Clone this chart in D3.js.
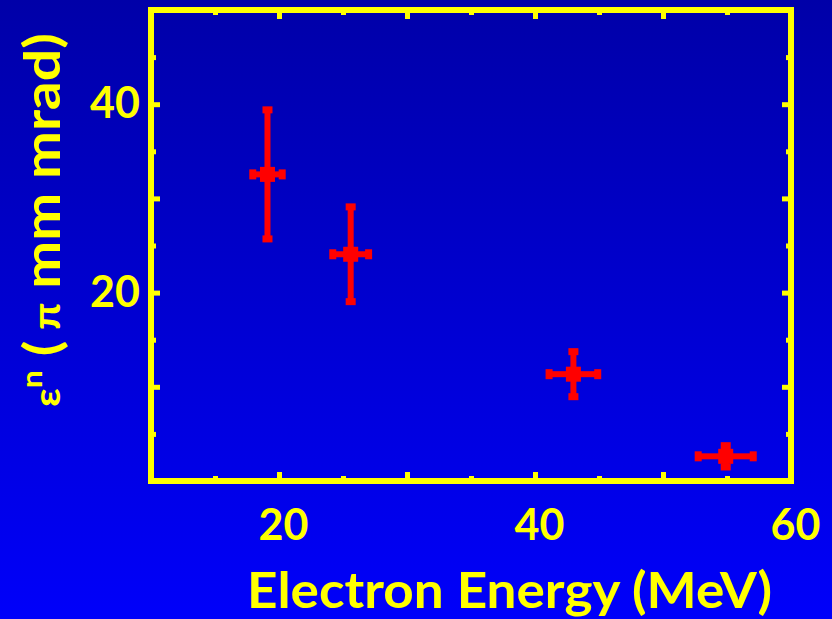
<!DOCTYPE html>
<html>
<head>
<meta charset="utf-8">
<script src="https://cdn.jsdelivr.net/npm/d3@7"></script>
<style>
  html, body { margin: 0; padding: 0; overflow: hidden; background: #0000d0; }
  svg { display: block; }
</style>
</head>
<body>
<svg id="chart" width="832" height="619"></svg>
<script>
// Normalised emittance versus electron energy
const energy       = [19.1, 25.6, 43.0, 54.9];     // MeV
const energyErr    = [1.15, 1.4, 1.9, 2.15];
const emittance    = [32.55, 24.07, 11.34, 2.62];  // pi mm mrad
const emittanceErr = [6.85, 5.03, 2.39, 1.13];

const xDomain      = [10, 60];
const yDomain      = [0, 50];
const xMajorTicks  = [20, 30, 40, 50];
const xMinorTicks  = [15, 25, 35, 45, 55];
const xTickLabels  = [20, 40, 60];
const yMajorTicks  = [10, 20, 30, 40];
const yMinorTicks  = [5, 15, 25, 35, 45];
const yTickLabels  = [20, 40];
const xTitle       = "Electron Energy (MeV)";

const W = 832, H = 619;
const plot = { left: 151, right: 791, top: 10, bottom: 481 };
const YELLOW = "#ffff00", RED = "#ff0000";
const FONT = "'Comic Sans MS', Lato, 'DejaVu Sans', sans-serif";

const svg = d3.select("#chart");

// Blue backdrop, darker at the top
const defs = svg.append("defs");
const grad = defs.append("linearGradient")
  .attr("id", "bg").attr("x1", 0).attr("y1", 0).attr("x2", 0).attr("y2", 1);
grad.append("stop").attr("offset", "0%").attr("stop-color", "#0000a8");
grad.append("stop").attr("offset", "100%").attr("stop-color", "#0000fa");
svg.append("rect").attr("width", W).attr("height", H).attr("fill", "url(#bg)");

const x = d3.scaleLinear().domain(xDomain).range([plot.left, plot.right]);
const y = d3.scaleLinear().domain(yDomain).range([plot.bottom, plot.top]);

// Inward ticks on all four sides
function styleTicks(g) {
  g.select(".domain").remove();
  g.selectAll(".tick line").attr("stroke", YELLOW).attr("stroke-width", 5);
  g.selectAll(".tick text").remove();
}
const sides = [
  { axis: d3.axisBottom(x), t: `translate(0,${plot.bottom})`, major: xMajorTicks, minor: xMinorTicks },
  { axis: d3.axisTop(x),    t: `translate(0,${plot.top})`,    major: xMajorTicks, minor: xMinorTicks },
  { axis: d3.axisLeft(y),   t: `translate(${plot.left},0)`,   major: yMajorTicks, minor: yMinorTicks },
  { axis: d3.axisRight(y),  t: `translate(${plot.right},0)`,  major: yMajorTicks, minor: yMinorTicks }
];
sides.forEach(s => {
  svg.append("g").attr("transform", s.t)
    .call(s.axis.tickValues(s.major).tickSize(-9)).call(styleTicks);
  svg.append("g").attr("transform", s.t)
    .call(s.axis.tickValues(s.minor).tickSize(-5)).call(styleTicks);
});

// Tick labels
const xLab = svg.append("g").attr("transform", `translate(0,${plot.bottom})`)
  .call(d3.axisBottom(x).tickValues(xTickLabels).tickSize(0).tickPadding(28).tickFormat(d3.format("d")));
xLab.select(".domain").remove();
xLab.selectAll("text")
  .attr("fill", YELLOW).attr("font-family", FONT).attr("font-weight", "bold")
  .attr("font-size", 43).attr("dx", 4);

const yLab = svg.append("g").attr("transform", `translate(${plot.left},0)`)
  .call(d3.axisLeft(y).tickValues(yTickLabels).tickSize(0).tickPadding(11).tickFormat(d3.format("d")));
yLab.select(".domain").remove();
yLab.selectAll("text")
  .attr("fill", YELLOW).attr("font-family", FONT).attr("font-weight", "bold")
  .attr("font-size", 43);

// Frame
svg.append("rect")
  .attr("x", plot.left).attr("y", plot.top)
  .attr("width", plot.right - plot.left).attr("height", plot.bottom - plot.top)
  .attr("fill", "none").attr("stroke", YELLOW).attr("stroke-width", 6);

// Data points with error bars
const pts = energy.map((e, i) => ({
  x: e, dx: energyErr[i], y: emittance[i], dy: emittanceErr[i]
}));
const pg = svg.append("g").attr("fill", RED).attr("stroke", "none");
const p = pg.selectAll("g.pt").data(pts).join("g").attr("class", "pt");
const BAR = 6, CAP_W = 10, CAP_T = 7, MARK = 15;
// vertical bar
p.append("rect")
  .attr("x", d => x(d.x) - BAR / 2).attr("y", d => y(d.y + d.dy))
  .attr("width", BAR).attr("height", d => y(d.y - d.dy) - y(d.y + d.dy));
// horizontal bar
p.append("rect")
  .attr("x", d => x(d.x - d.dx)).attr("y", d => y(d.y) - BAR / 2)
  .attr("width", d => x(d.x + d.dx) - x(d.x - d.dx)).attr("height", BAR);
// end caps
p.append("rect").attr("x", d => x(d.x) - CAP_W / 2).attr("y", d => y(d.y + d.dy) - CAP_T / 2)
  .attr("width", CAP_W).attr("height", CAP_T);
p.append("rect").attr("x", d => x(d.x) - CAP_W / 2).attr("y", d => y(d.y - d.dy) - CAP_T / 2)
  .attr("width", CAP_W).attr("height", CAP_T);
p.append("rect").attr("x", d => x(d.x - d.dx) - CAP_T / 2).attr("y", d => y(d.y) - CAP_W / 2)
  .attr("width", CAP_T).attr("height", CAP_W);
p.append("rect").attr("x", d => x(d.x + d.dx) - CAP_T / 2).attr("y", d => y(d.y) - CAP_W / 2)
  .attr("width", CAP_T).attr("height", CAP_W);
// square marker
p.append("rect")
  .attr("x", d => x(d.x) - MARK / 2).attr("y", d => y(d.y) - MARK / 2)
  .attr("width", MARK).attr("height", MARK);

// Axis titles
svg.append("text")
  .attr("x", 509.5).attr("y", 608)
  .attr("text-anchor", "middle")
  .attr("fill", YELLOW).attr("font-family", FONT).attr("font-weight", "bold")
  .attr("font-size", 50)
  .attr("textLength", 525).attr("lengthAdjust", "spacingAndGlyphs")
  .text(xTitle);

const yt = svg.append("text")
  .attr("transform", "translate(60,407) rotate(-90)")
  .attr("fill", YELLOW).attr("font-family", FONT).attr("font-weight", "bold")
  .attr("font-size", 50)
  .attr("textLength", 374).attr("lengthAdjust", "spacingAndGlyphs");
yt.append("tspan").attr("font-size", 36).text("ε");
yt.append("tspan").attr("font-size", 28).attr("dy", -18).text("n");
yt.append("tspan").attr("dy", 18).text(" (");
yt.append("tspan").attr("font-size", 38).text(" π");
yt.append("tspan").text(" mm mrad)");
</script>
</body>
</html>
